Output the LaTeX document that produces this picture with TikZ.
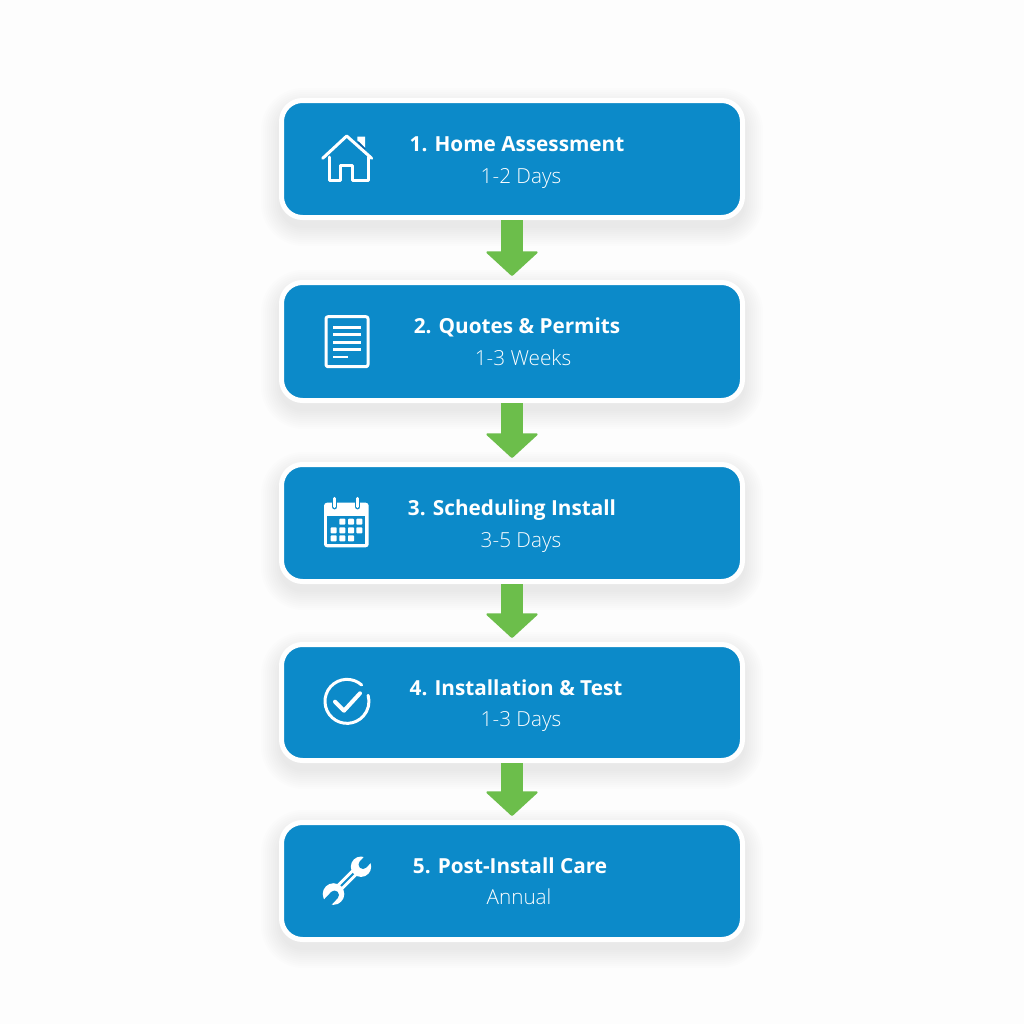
\documentclass[tikz,border=0pt]{standalone}
\usepackage{fontspec}
\setmainfont{Open Sans}
\newfontfamily\spanfont{Open Sans Light}
\usetikzlibrary{arrows.meta}
\definecolor{stepblue}{HTML}{0C8AC9}
\definecolor{flowgreen}{HTML}{6CBE4B}
\definecolor{pagewhite}{HTML}{FDFDFD}
\definecolor{roofshade}{HTML}{0B5FA5}
\tikzset{
	stepbox/.style={draw=white,line width=5mm,fill=stepblue,rounded corners=21mm,minimum width=461mm,inner sep=0pt},
	flowarrow/.style={draw=flowgreen,line width=22mm,-{Triangle[width=54mm,length=25mm,line width=2mm,round,fill=flowgreen]},shorten >=4mm},
	steptitle/.style={anchor=base,text=white,font=\fontsize{59}{60}\selectfont\bfseries},
	stepspan/.style={anchor=base,text=white,font=\fontsize{59}{60}\spanfont},
	iconline/.style={draw=white,line width=3mm,line cap=round,line join=round},
}
\begin{document}
\begin{tikzpicture}[x=1mm,y=-1mm]
	\useasboundingbox (0,0) rectangle (1024,1024);
	\fill[pagewhite] (0,0) rectangle (1024,1024);
	% soft shadows under the boxes
	\foreach \yc/\hh in {159/122,341.5/123,523/122,702.5/121,881/122}{
		\foreach \s in {0,2,...,18}{
			\fill[black,opacity=0.007,rounded corners=24mm+\s*1mm] (279-\s,\yc-\hh/2+8-\s) rectangle (745+\s,\yc+\hh/2+8+\s);
		}
	}
	% boxes
	\node[stepbox,minimum height=117mm] (assess) at (512,159) {};
	\node[stepbox,minimum height=118mm] (quotes) at (512,341.5) {};
	\node[stepbox,minimum height=117mm] (sched) at (512,523) {};
	\node[stepbox,minimum height=116mm] (install) at (512,702.5) {};
	\node[stepbox,minimum height=117mm] (care) at (512,881) {};
	% arrows
	\draw[flowarrow] (assess.south) -- (quotes.north);
	\draw[flowarrow] (quotes.south) -- (sched.north);
	\draw[flowarrow] (sched.south) -- (install.north);
	\draw[flowarrow] (install.south) -- (care.north);
	% labels
	\node[steptitle] (assesstitle) at (517,151) {1. Home Assessment};
	\node[stepspan] (assessspan) at (521,183) {1-2 Days};
	\node[steptitle] (quotestitle) at (517,333) {2. Quotes \& Permits};
	\node[stepspan] (quotesspan) at (523,365) {1-3 Weeks};
	\node[steptitle] (schedtitle) at (512,515) {3. Scheduling Install};
	\node[stepspan] (schedspan) at (521,547) {3-5 Days};
	\node[steptitle] (installtitle) at (516,695) {4. Installation \& Test};
	\node[stepspan] (installspan) at (521,726) {1-3 Days};
	\node[steptitle] (caretitle) at (510,873) {5. Post-Install Care};
	\node[stepspan] (carespan) at (519,904) {Annual};
	% house
	\fill[white] (357.3,136.7) -- (365,136.7) -- (365,148) -- (357.3,140.5) -- cycle;
	\draw[roofshade,line width=1.5mm] (358,142) -- (365,149);
	\draw[iconline] (322.7,158.3) -- (346.7,136) -- (371.7,158.3);
	\draw[iconline] (329.3,157) -- (329.3,180) -- (340.7,180) -- (340.7,165.7) -- (352.7,165.7) -- (352.7,180) -- (368.3,180) -- (368.3,157);
	% document
	\draw[iconline,rounded corners=2mm] (326,316.7) rectangle (368,366.7);
	\foreach \ly in {327.3,334.7,342.3,349.7}{
		\draw[white,line width=2.8mm] (333.3,\ly) -- (360.7,\ly);
	}
	\draw[white,line width=2.8mm] (333.3,357) -- (348,357);
	% calendar
	\fill[white,rounded corners=3mm] (324,502.7) rectangle (368.7,547.3);
	\fill[stepblue] (327.3,516) rectangle (365.3,544);
	\foreach \cx in {334.7,357.7}{
		\draw[stepblue,line width=5.5mm,line cap=round] (\cx,498.3) -- (\cx,506.7);
		\draw[white,line width=2.8mm,line cap=round] (\cx,498.3) -- (\cx,506.7);
	}
	\foreach \cx/\cy in {342.3/521.7,351/521.7,359.3/521.7,333.7/530.3,342.3/530.3,351/530.3,359.3/530.3,333.7/538.3,342.3/538.3,351/538.3}{
		\fill[white,rounded corners=0.8mm] (\cx-3,\cy-3) rectangle (\cx+3,\cy+3);
	}
	% check
	\draw[iconline] (361.7,685) arc[start angle=48,end angle=376,radius=22mm];
	\draw[iconline,line width=4mm] (335,701.7) -- (344,710.7) -- (360,693.3);
	% wrench
	\draw[white,line width=8mm] (338,889) -- (357,870);
	\draw[stepblue,line width=2mm] (341,886) -- (354,873);
	\fill[white] (361,866.7) circle (10.2mm);
	\fill[white] (333.5,894) circle (10.8mm);
	\draw[stepblue,line width=9mm,line cap=round] (363,864.5) -- (372,855);
	\draw[stepblue,line width=9mm,line cap=round] (334.5,895) -- (325.5,904.5);
\end{tikzpicture}
\end{document}
